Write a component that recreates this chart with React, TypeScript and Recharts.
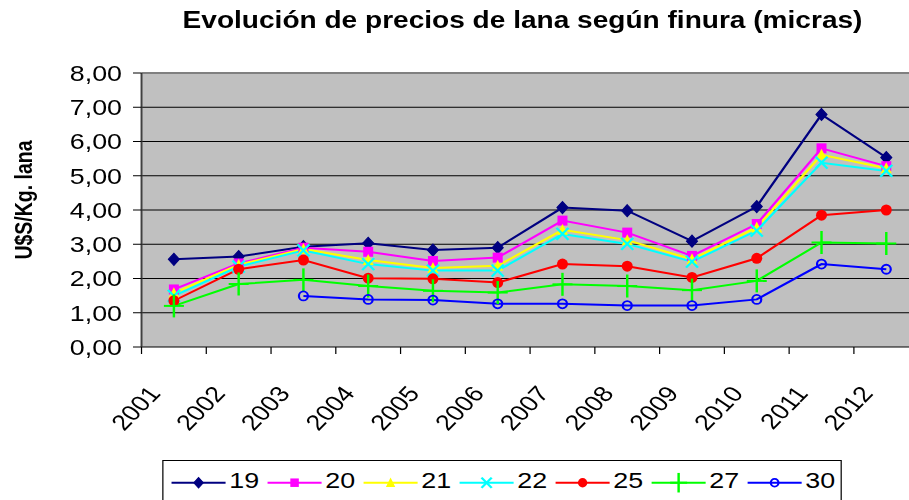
import React from 'react';
import {
  LineChart,
  Line,
  XAxis,
  YAxis,
  CartesianGrid,
  ReferenceLine,
  Legend,
} from 'recharts';

const TITLE = 'Evolución de precios de lana según finura (micras)';
const Y_LABEL = 'U$S/Kg. lana';
const YEARS = ['2001', '2002', '2003', '2004', '2005', '2006', '2007', '2008', '2009', '2010', '2011', '2012'];
const Y_TICKS = [0, 1, 2, 3, 4, 5, 6, 7, 8];

const S19 = [2.56, 2.64, 2.93, 3.03, 2.83, 2.9, 4.07, 3.98, 3.09, 4.1, 6.79, 5.53];
const S20 = [1.68, 2.44, 2.9, 2.78, 2.51, 2.61, 3.69, 3.34, 2.66, 3.59, 5.8, 5.28];
const S21 = [1.57, 2.4, 2.86, 2.54, 2.31, 2.37, 3.42, 3.12, 2.56, 3.49, 5.61, 5.22];
const S22 = [1.49, 2.35, 2.82, 2.42, 2.23, 2.23, 3.3, 3.01, 2.49, 3.4, 5.38, 5.14];
const S25 = [1.35, 2.27, 2.54, 2.01, 1.99, 1.88, 2.42, 2.36, 2.03, 2.59, 3.85, 4.0];
const S27 = [1.2, 1.84, 1.96, 1.78, 1.64, 1.59, 1.83, 1.78, 1.66, 1.93, 3.05, 3.02];
const S30 = [null, null, 1.49, 1.39, 1.37, 1.26, 1.26, 1.21, 1.21, 1.39, 2.42, 2.27];

const SERIES = [
  { key: 's19', name: '19', color: '#000080', shape: 'diamond', values: S19 },
  { key: 's20', name: '20', color: '#FF00FF', shape: 'square', values: S20 },
  { key: 's21', name: '21', color: '#FFFF00', shape: 'triangle', values: S21 },
  { key: 's22', name: '22', color: '#00FFFF', shape: 'x', values: S22 },
  { key: 's25', name: '25', color: '#FF0000', shape: 'circle', values: S25 },
  { key: 's27', name: '27', color: '#00FF00', shape: 'plus', values: S27 },
  { key: 's30', name: '30', color: '#0000FF', shape: 'ring', values: S30 },
];

const data = YEARS.map((year, i) => {
  const row: any = { year };
  SERIES.forEach((s) => {
    row[s.key] = s.values[i];
  });
  return row;
});

// horizontal stretch of the reference picture
const S = 1.22;
const W = 761;
const H = 500;
const Y_AXIS_W = 116;
const RIGHT = 8;
const PLOT_W = W - Y_AXIS_W - RIGHT;
const FONT = "'Liberation Sans', Arial, sans-serif";

function Marker({ shape, color, x, y, k = 1 }: any) {
  const hw = (v: number) => (v * k) / S;
  const hh = (v: number) => v * k;
  switch (shape) {
    case 'diamond':
      return (
        <polygon
          points={`${x},${y - hh(6)} ${x + hw(5.5)},${y} ${x},${y + hh(6)} ${x - hw(5.5)},${y}`}
          fill={color}
          stroke={color}
        />
      );
    case 'square':
      return <rect x={x - hw(5)} y={y - hh(5)} width={2 * hw(5)} height={2 * hh(5)} fill={color} />;
    case 'triangle':
      return (
        <polygon
          points={`${x},${y - hh(6)} ${x + hw(5.5)},${y + hh(5)} ${x - hw(5.5)},${y + hh(5)}`}
          fill={color}
        />
      );
    case 'x':
      return (
        <g stroke={color} strokeWidth={2}>
          <line x1={x - hw(6)} y1={y - hh(6)} x2={x + hw(6)} y2={y + hh(6)} />
          <line x1={x - hw(6)} y1={y + hh(6)} x2={x + hw(6)} y2={y - hh(6)} />
        </g>
      );
    case 'circle':
      return <ellipse cx={x} cy={y} rx={hw(5.5)} ry={hh(5.5)} fill={color} />;
    case 'plus':
      return (
        <g stroke={color} strokeWidth={2}>
          <line x1={x - hw(10)} y1={y} x2={x + hw(10)} y2={y} />
          <line x1={x} y1={y - hh(11.5)} x2={x} y2={y + hh(11.5)} />
        </g>
      );
    case 'ring':
      return <ellipse cx={x} cy={y} rx={hw(4.5)} ry={hh(4.5)} fill="none" stroke={color} strokeWidth={1.8} />;
    default:
      return null;
  }
}

const makeDot = (shape: string, color: string) => (props: any) => {
  const { cx, cy, index } = props;
  if (cx == null || cy == null || props.value == null) return <g key={`d${index}`} />;
  return (
    <g key={`d${index}`}>
      <Marker shape={shape} color={color} x={cx} y={cy} />
    </g>
  );
};

const XTick = (props: any) => {
  const { x, y, payload } = props;
  const half = PLOT_W / YEARS.length / 2;
  return (
    <g>
      <line x1={x - half} y1={y} x2={x - half} y2={y + 7} stroke="#000" strokeWidth={1} />
      <text
        transform={`translate(${x - 10},${y + 47}) rotate(-50.7)`}
        textAnchor="end"
        fontSize={22}
        fontFamily={FONT}
        fill="#000"
      >
        {payload.value}
      </text>
    </g>
  );
};

const LegendContent = (props: any) => {
  const { payload } = props;
  const pitch = 78.7;
  const lineLen = 44.3;
  return (
    <svg width={557} height={45} style={{ display: 'block' }}>
      <rect x={0.5} y={0.5} width={556} height={70} fill="#fff" stroke="#000" strokeWidth={1} />
      {(payload || []).map((p: any, i: number) => {
        const s = SERIES.find((q) => q.key === p.dataKey) || SERIES[i];
        const x0 = 7.6 + i * pitch;
        return (
          <g key={s.key}>
            <line x1={x0} y1={22.7} x2={x0 + lineLen} y2={22.7} stroke={s.color} strokeWidth={2} />
            <Marker shape={s.shape} color={s.color} x={x0 + lineLen / 2} y={22.7} k={0.85} />
            <text x={x0 + lineLen + 3} y={28.5} fontSize={22} fontFamily={FONT} fill="#000">
              {p.value}
            </text>
          </g>
        );
      })}
    </svg>
  );
};

const fmt = (v: number) => v.toFixed(2).replace('.', ',');

export default function App() {
  return (
    <div
      style={{
        position: 'absolute',
        left: 0,
        top: 0,
        width: 909,
        height: 500,
        overflow: 'hidden',
        background: '#fff',
      }}
    >
      <div
        style={{
          position: 'relative',
          width: W,
          height: H,
          transform: `scaleX(${S})`,
          transformOrigin: '0 0',
          fontFamily: FONT,
        }}
      >
        <LineChart width={W} height={H} data={data} margin={{ top: 73, right: RIGHT, bottom: 73, left: 0 }}>
          <CartesianGrid
            vertical={false}
            horizontalValues={[1, 2, 3, 4, 5, 6, 7]}
            fill="#C0C0C0"
            fillOpacity={1}
            stroke="#000"
            strokeWidth={1}
          />
          <ReferenceLine y={8} stroke="#808080" strokeWidth={2} />
          <XAxis
            dataKey="year"
            scale="band"
            interval={0}
            height={80}
            tickLine={false}
            tickSize={0}
            tickMargin={0}
            axisLine={{ stroke: '#000', strokeWidth: 1 }}
            tick={<XTick />}
          />
          <YAxis
            width={Y_AXIS_W}
            domain={[0, 8]}
            ticks={Y_TICKS}
            interval={0}
            tickFormatter={fmt}
            tickSize={7}
            tickMargin={9}
            tickLine={{ stroke: '#000' }}
            axisLine={{ stroke: '#404040', strokeWidth: 1.6 }}
            tick={{ fill: '#000', fontSize: 22, fontFamily: FONT }}
          />
          {SERIES.map((s) => (
            <Line
              key={s.key}
              type="linear"
              dataKey={s.key}
              name={s.name}
              stroke={s.color}
              strokeWidth={2}
              dot={makeDot(s.shape, s.color)}
              activeDot={false}
              isAnimationActive={false}
            />
          ))}
          <Legend
            layout="horizontal"
            verticalAlign="middle"
            align="center"
            content={<LegendContent />}
            wrapperStyle={{ left: 133.4, top: 460, width: 557, height: 45 }}
          />
        </LineChart>
        <div
          style={{
            position: 'absolute',
            left: 428.3 - 350,
            top: 8.5,
            width: 700,
            textAlign: 'center',
            fontSize: 23,
            lineHeight: '23px',
            fontWeight: 'bold',
            whiteSpace: 'nowrap',
            color: '#000',
          }}
        >
          {TITLE}
        </div>
        <div
          style={{
            position: 'absolute',
            left: 18.9 - 100,
            top: 200 - 10,
            width: 200,
            height: 20,
            lineHeight: '20px',
            textAlign: 'center',
            fontSize: 19.5,
            fontWeight: 'bold',
            whiteSpace: 'nowrap',
            transform: 'rotate(-90deg)',
            color: '#000',
          }}
        >
          {Y_LABEL}
        </div>
      </div>
    </div>
  );
}
